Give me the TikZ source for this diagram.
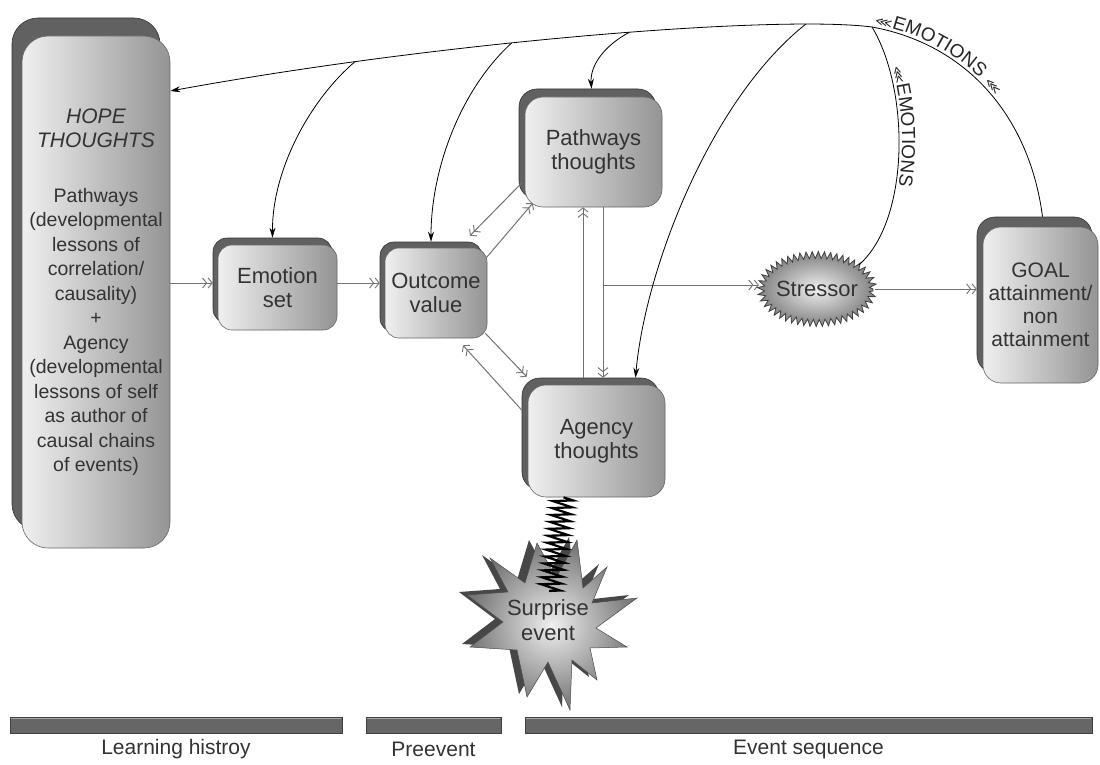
\documentclass[tikz,border=0pt]{standalone}
\usepackage{fontspec}
\setmainfont{Liberation Sans}
\newfontfamily\dejavu{DejaVu Sans}
\usetikzlibrary{arrows.meta,decorations.pathmorphing,decorations.text,calc,shapes.geometric}
\newcommand\dbox[8][]{%
  \node[shad, rounded corners=#6, minimum width=#4, minimum height=#5, #7] (#2sh) at (#3) {};
  \node[front, rounded corners=#6, minimum width=#4, minimum height=#5, #1] (#2) at (#3) {#8};
}
\begin{document}
\begin{tikzpicture}[x=1pt,y=-1pt,
  txt/.style={text=black!80, font=\fontsize{22}{24.5}\selectfont, align=center},
  front/.style={draw=black!60, line width=0.6pt, left color=black!6, right color=black!42, txt},
  shad/.style={draw=black!80, fill=black!62, line width=0.6pt},
  flow/.style={draw=black!55, line width=1pt,
    -{Straight Barb[length=4pt,width=10pt,line width=0.9pt,sep=0.5pt] Straight Barb[length=4pt,width=10pt,line width=0.9pt]}},
  feed/.style={draw=black, line width=0.8pt, -{Stealth[length=10pt,width=6pt]}},
  bar/.style={draw=black!75, fill=black!60, line width=0.6pt, minimum height=16pt, inner sep=0pt},
  lbl/.style={text=black!80, font=\fontsize{21}{24}\selectfont}]
\useasboundingbox (0,0) rectangle (1100,765);
\fill[white] (0,0) rectangle (1100,765);

% boxes
\dbox[font=\fontsize{19.5}{24.5}\selectfont]{hope}{96,292}{148pt}{512pt}{26pt}{xshift=-10pt,yshift=18pt}{{\fontsize{21}{26}\selectfont\itshape HOPE}\\{\fontsize{21}{26}\selectfont\itshape THOUGHTS}\\[30pt]Pathways\\(developmental\\lessons of\\correlation/\\causality)\\+\\Agency\\(developmental\\lessons of self\\as author of\\causal chains\\of events)}
\dbox{emo}{277.5,287.5}{119pt}{85pt}{14pt}{xshift=-5pt,yshift=7pt}{Emotion\\set}
\dbox{out}{436,293}{102pt}{90pt}{14pt}{xshift=-5pt,yshift=6pt}{Outcome\\value}
\dbox{path}{593.5,152}{137pt}{110pt}{18pt}{xshift=-6pt,yshift=8pt}{Pathways\\thoughts}
\dbox{agency}{596.5,441}{137pt}{112pt}{18pt}{xshift=-6pt,yshift=7pt}{Agency\\thoughts}
\dbox[font=\fontsize{21}{23}\selectfont]{goal}{1040.5,305}{115pt}{156pt}{18pt}{xshift=-6pt,yshift=10pt}{GOAL\\attainment/\\non\\attainment}

% stressor
\draw[decorate, decoration={zigzag,segment length=6pt,amplitude=3.5pt}, draw=black!75, line width=0.8pt, inner color=black!6, outer color=black!50] (817,289) ellipse [x radius=56pt, y radius=34pt];
\node[txt, ellipse, minimum width=114pt, minimum height=70pt, inner sep=0pt] (stress) at (817,289) {Stressor};

% surprise star
\fill[black!72, xshift=-8pt, yshift=3pt] (467,595) -- (508,592) -- (490,558) -- (525,583) -- (537,543) -- (556,578) -- (577,540) -- (583,588) -- (607,567) -- (592,603) -- (637,598) -- (596,628) -- (627,647) -- (590,648) -- (597,680) -- (572,660) -- (570,710) -- (548,662) -- (527,697) -- (517,650) -- (470,647) -- (503,622) -- cycle;
\draw[black!70, line width=0.5pt, inner color=black!6, outer color=black!55] (467,595) -- (508,592) -- (490,558) -- (525,583) -- (537,543) -- (556,578) -- (577,540) -- (583,588) -- (607,567) -- (592,603) -- (637,598) -- (596,628) -- (627,647) -- (590,648) -- (597,680) -- (572,660) -- (570,710) -- (548,662) -- (527,697) -- (517,650) -- (470,647) -- (503,622) -- cycle;
\node[txt] (surprise) at (548,620) {Surprise\\event};
\draw[black, line width=2.2pt, decorate, decoration={zigzag, segment length=7pt, amplitude=10pt}] ($(agency.south)+(-33,0)$) -- ($(surprise)+(2,-28)$);

% flow arrows
\coordinate (fy) at (0,283);
\coordinate (fy2) at (0,285);
\coordinate (vx1) at (583,0);
\coordinate (vx2) at (603,0);
\draw[flow] (hope.east |- fy) -- (emosh.west |- fy);
\draw[flow] (emo.east |- fy) -- (outsh.west |- fy);
\draw[flow] ($(pathsh.west)+(3,39)$) -- ($(out.north)+(34,-12)$);
\draw[flow] ($(out.north east)+(-1,10)$) -- ($(path.south west)+(8,-4)$);
\draw[flow] ($(out.south east)+(-2,-5)$) -- ($(agencysh.north west)+(5,-1)$);
\draw[flow] ($(agencysh.west)+(0,-24)$) -- ($(out.south)+(27,7)$);
\draw[flow] (agencysh.north -| vx1) -- (path.south -| vx1);
\draw[flow] (path.south -| vx2) -- (agencysh.north -| vx2);
\draw[flow] (vx2 |- fy2) -- (stress.west |- fy2);
\draw[flow] (stress.east) -- (goalsh.west |- stress.east);

% emotion feedback lines
\coordinate (j5) at (872,27);
\coordinate (hy) at (0,91);
\draw[feed] ($(goalsh.north)+(8,0)$) .. controls (1030,120) and (970,45) .. (j5) .. controls (780,15) and (450,40) .. (hope.east |- hy) coordinate[pos=.17] (j4) coordinate[pos=.45] (j3) coordinate[pos=.6] (j2) coordinate[pos=.785] (j1);
\draw[feed] (j1) .. controls (310,100) and (272,170) .. (emosh.north);
\draw[feed] (j2) .. controls (460,90) and (431,170) .. (outsh.north);
\draw[feed] (j3) .. controls (605,45) and (590,65) .. ($(pathsh.north)+(4,0)$);
\draw[feed] (j4) .. controls (710,100) and (645,270) .. ($(agencysh.north)+(45,0)$);
\draw[black, line width=0.8pt] (stress.30) .. controls (910,220) and (910,90) .. (j5);

\path[decorate, decoration={text along path, text align={left, left indent=2pt}, raise=3pt,
  text={|\dejavu\fontsize{12}{12}\selectfont\color{black!85}|⋘|\rmfamily\fontsize{19}{19}\selectfont\color{black!85}|EMOTIONS |\dejavu\fontsize{12}{12}\selectfont\color{black!85}|⋘}}]
  (j5) .. controls (970,45) and (1030,120) .. ($(goalsh.north)+(8,0)$);
\path[decorate, decoration={text along path, text align={left, left indent=45pt}, raise=3pt,
  text={|\dejavu\fontsize{12}{12}\selectfont\color{black!85}|⋘|\rmfamily\fontsize{19}{19}\selectfont\color{black!85}|EMOTIONS}}]
  (j5) .. controls (910,90) and (910,220) .. (stress.30);

% timeline bars
\node[bar, minimum width=332pt] (bar1) at (176,725) {};
\node[bar, minimum width=135pt] (bar2) at (433.5,725) {};
\node[bar, minimum width=567pt] (bar3) at (808.5,725) {};
\foreach \b in {bar1,bar2,bar3}
  \draw[black!35, line width=1pt] ($(\b.north west)+(1,2)$) -- ($(\b.north east)+(-1,2)$);
\node[lbl] (l1) at ($(bar1.south)+(0,16)$) {Learning histroy};
\node[lbl] (l2) at ($(bar2.south)+(0,16)$) {Preevent};
\node[lbl] (l3) at ($(bar3.south)+(0,16)$) {Event sequence};
\end{tikzpicture}
\end{document}
